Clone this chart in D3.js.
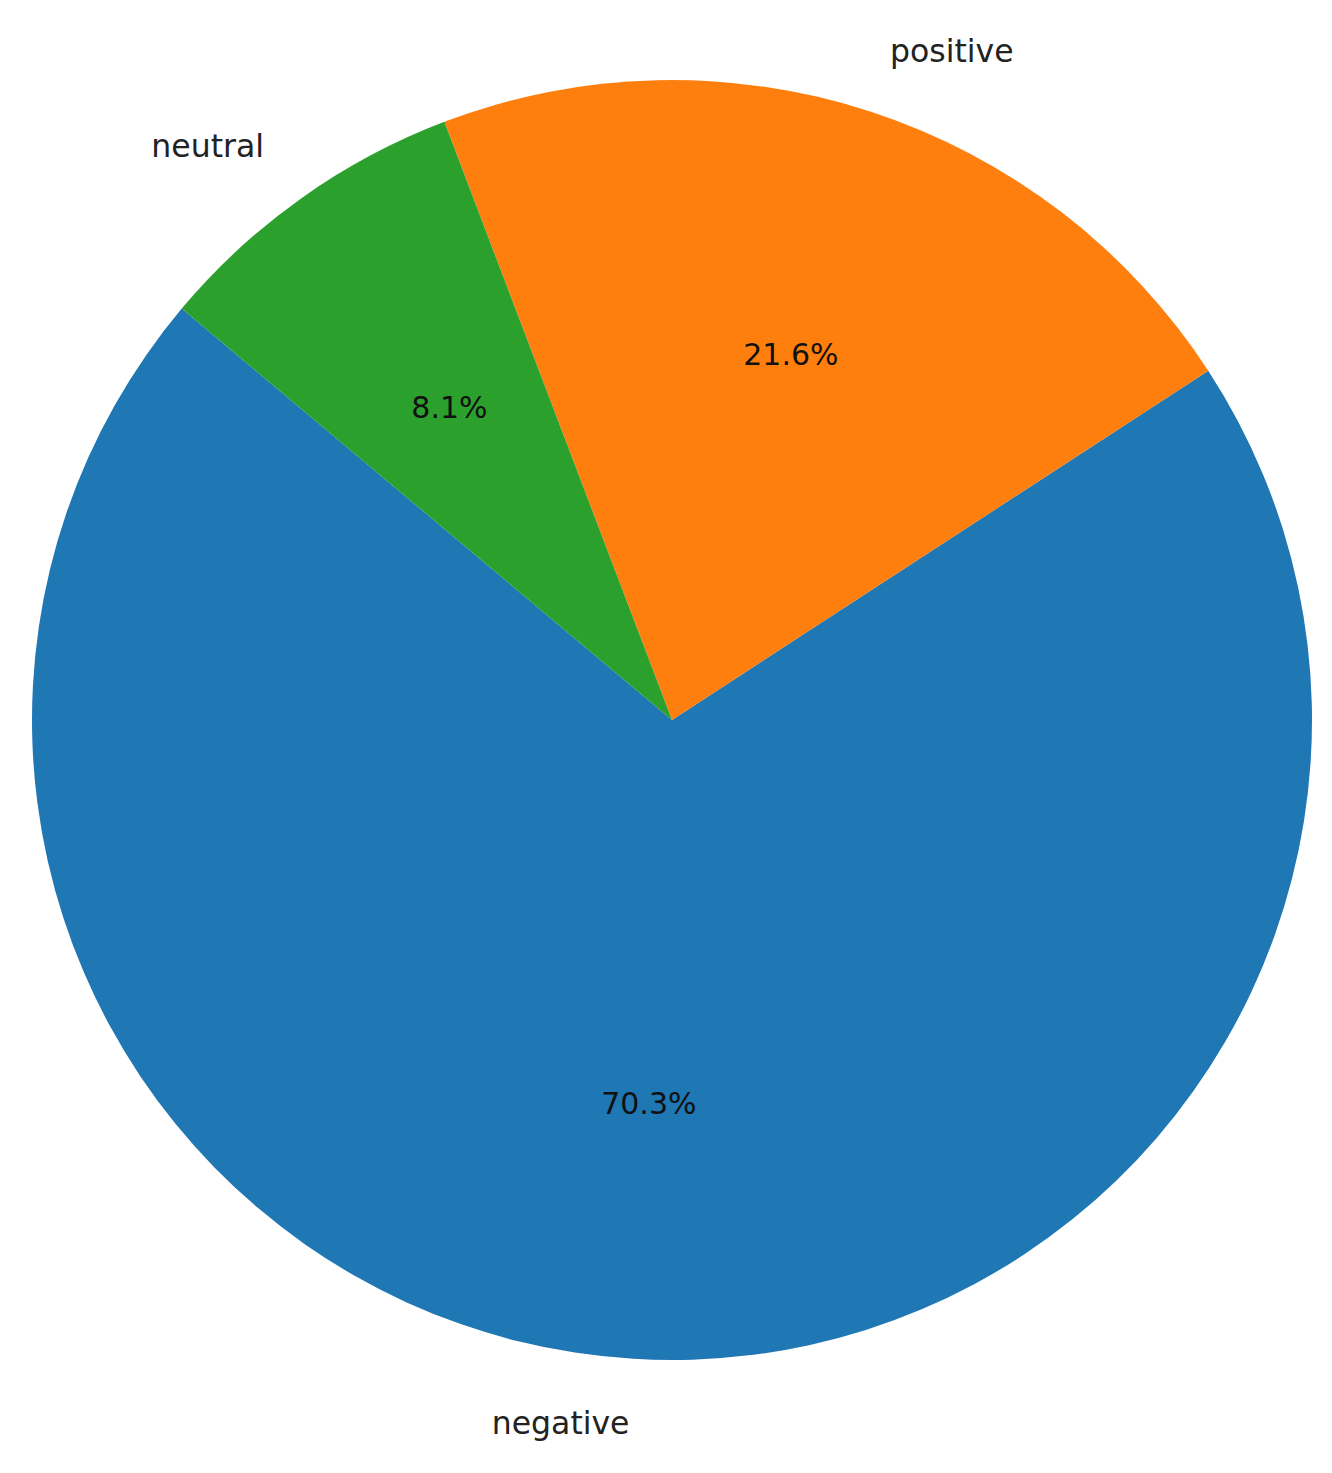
<!DOCTYPE html>
<html>
<head>
<meta charset="utf-8">
<script src="https://cdn.jsdelivr.net/npm/d3@7"></script>
<style>
  body { margin: 0; background: #fff; }
  text { font-family: "DejaVu Sans", sans-serif; }
</style>
</head>
<body>
<svg></svg>
<script>
// data
let categories = ['negative', 'positive', 'neutral']
let shares = [70.3, 21.6, 8.1]
let colors = ['#1f77b4', '#ff7f0e', '#2ca02c']

let width = 1332
let height = 1473
let cx = 672
let cy = 720
let radius = 640
// matplotlib startangle 140, counterclockwise -> d3 angles
let start = (90 - 140) * Math.PI / 180

let svg = d3.select('svg')
    .attr('width', width)
    .attr('height', height)

let values = categories.map((c, i) => ({ name: c, value: shares[i], color: colors[i] }))

let pie = d3.pie()
    .sort(null)
    .value(d => d.value)
    .startAngle(start)
    .endAngle(start - 2 * Math.PI)

let arcs = pie(values)

let arc = d3.arc().innerRadius(0).outerRadius(radius)
let labelArc = d3.arc().innerRadius(radius * 1.1).outerRadius(radius * 1.1)
let pctArc = d3.arc().innerRadius(radius * 0.6).outerRadius(radius * 0.6)

let g = svg.append('g')
    .attr('transform', 'translate(' + cx + ',' + cy + ')')

g.selectAll('path')
    .data(arcs)
    .enter()
    .append('path')
    .attr('d', arc)
    .attr('fill', d => d.data.color)

// category labels outside, aligned like matplotlib (left if on right side)
g.selectAll('.label')
    .data(arcs)
    .enter()
    .append('text')
    .attr('class', 'label')
    .attr('x', d => labelArc.centroid(d)[0])
    .attr('y', d => labelArc.centroid(d)[1])
    .attr('text-anchor', d => labelArc.centroid(d)[0] > 0 ? 'start' : 'end')
    .attr('dominant-baseline', 'central')
    .attr('font-size', 31.5)
    .attr('fill', '#222')
    .text(d => d.data.name)

// percentages inside
g.selectAll('.pct')
    .data(arcs)
    .enter()
    .append('text')
    .attr('class', 'pct')
    .attr('x', d => pctArc.centroid(d)[0])
    .attr('y', d => pctArc.centroid(d)[1])
    .attr('text-anchor', 'middle')
    .attr('dominant-baseline', 'central')
    .attr('font-size', 30)
    .attr('fill', '#111')
    .text(d => d.data.value.toFixed(1) + '%')
</script>
</body>
</html>
